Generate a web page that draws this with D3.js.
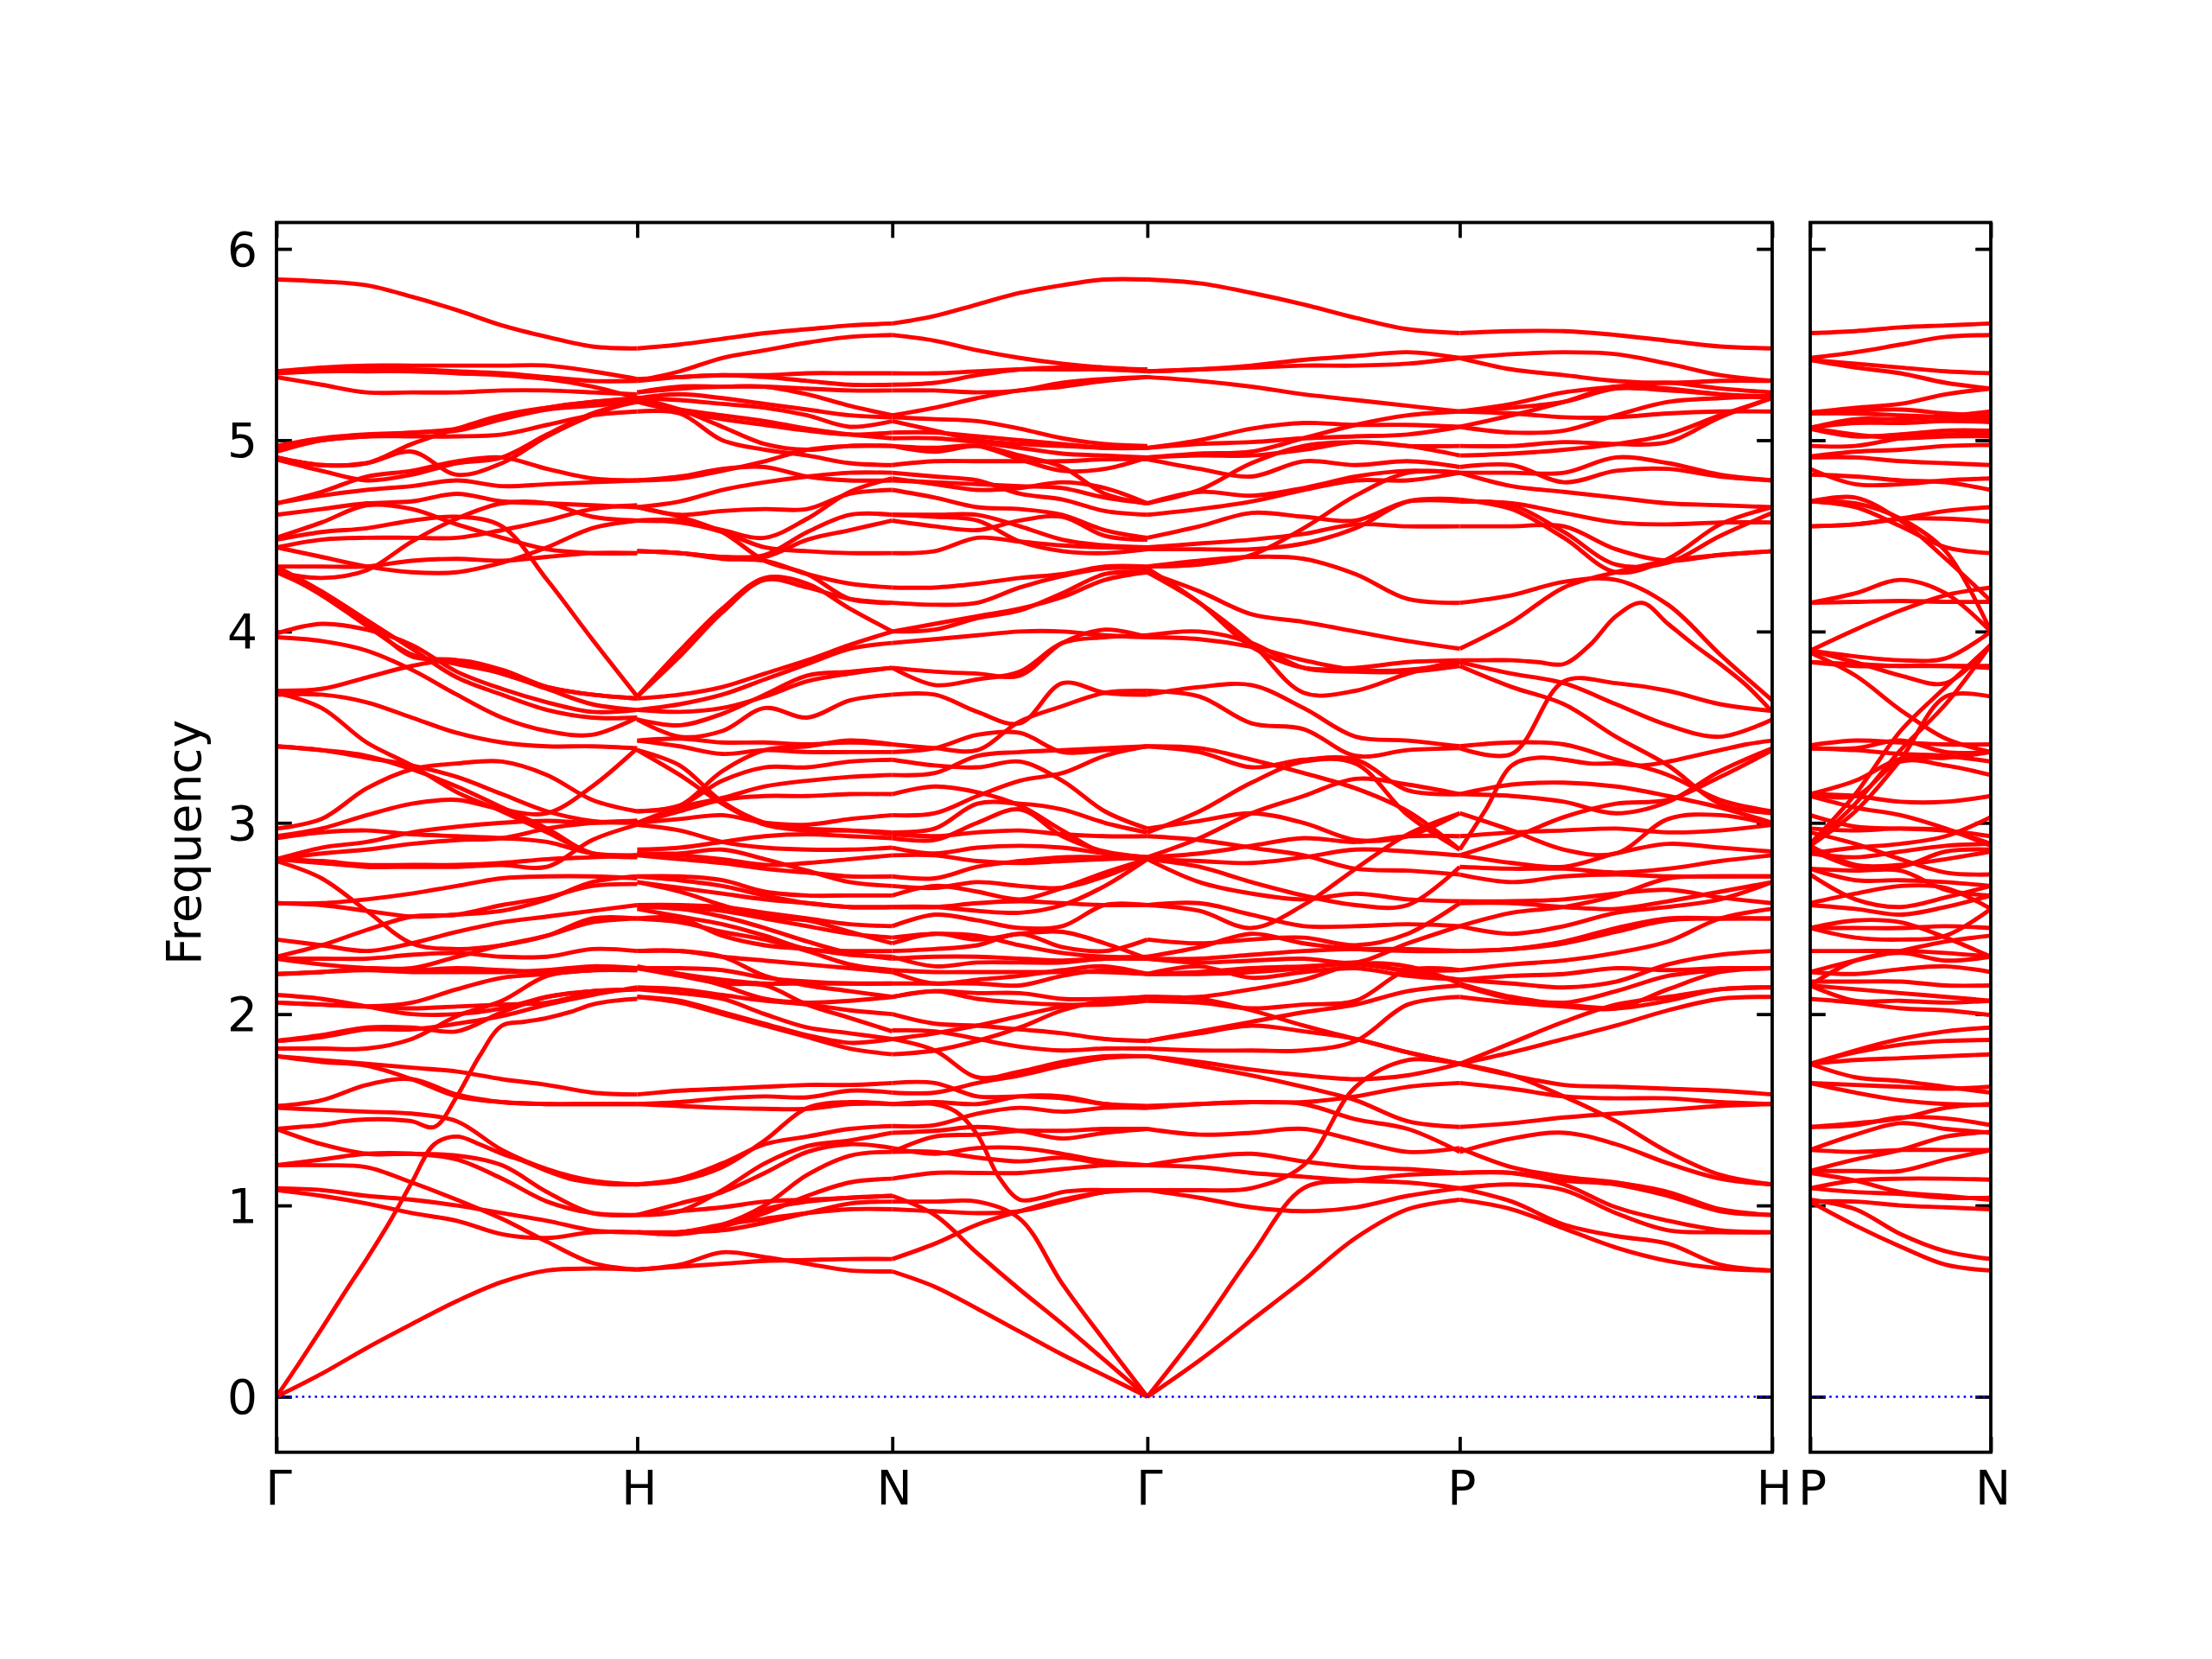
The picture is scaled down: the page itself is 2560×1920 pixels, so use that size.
<!DOCTYPE html>
<html><head><meta charset="utf-8">
<script src="https://cdn.jsdelivr.net/npm/d3@7"></script>
<style>html,body{margin:0;background:#fff}svg{display:block}text{font-family:"DejaVu Sans";fill:#000}</style>
</head><body><div id="chart"></div>
<script>
const mainTickLabels = ["Γ","H","N","Γ","P","H"];
const sideTickLabels = ["P","N"];
const mainTickK = [0,1,1.7071,2.4142,3.2802,4.1463];
const sideTickK = [0,0.5];
const yTicks = [0,1,2,3,4,5,6];
const yLabel = "Frequency";

const gammaToH = [
[5.84,5.83,5.81,5.75,5.68,5.60,5.54,5.49,5.48],
[5.36,5.38,5.39,5.39,5.39,5.39,5.39,5.36,5.32],
[5.35,5.37,5.37,5.37,5.36,5.35,5.33,5.31,5.31],
[5.35,5.36,5.36,5.36,5.35,5.34,5.32,5.28,5.22],
[5.33,5.29,5.25,5.25,5.25,5.26,5.26,5.25,5.24],
[4.97,5.01,5.03,5.04,5.06,5.12,5.17,5.20,5.21],
[4.94,5.00,5.02,5.04,5.05,5.11,5.16,5.18,5.20],
[4.91,4.87,4.88,4.98,5.06,5.13,5.17,5.20,5.22],
[4.96,5.00,5.02,5.02,5.02,5.03,5.08,5.13,5.15],
[4.91,4.87,4.88,4.94,4.82,4.88,5.02,5.13,5.21],
[4.90,4.84,4.79,4.82,4.88,4.91,5.03,5.14,5.20],
[4.67,4.73,4.81,4.84,4.89,4.91,4.85,4.80,4.79],
[4.67,4.71,4.74,4.76,4.79,4.76,4.77,4.78,4.79],
[4.61,4.64,4.67,4.68,4.72,4.68,4.67,4.66,4.65],
[4.49,4.57,4.66,4.64,4.56,4.49,4.43,4.41,4.41],
[4.48,4.52,4.54,4.58,4.60,4.55,4.27,3.96,3.66],
[4.44,4.48,4.49,4.49,4.49,4.53,4.58,4.64,4.66],
[4.44,4.39,4.34,4.31,4.31,4.36,4.44,4.54,4.58],
[4.34,4.34,4.34,4.37,4.38,4.37,4.39,4.41,4.41],
[4.31,4.28,4.32,4.47,4.59,4.67,4.67,4.60,4.58],
[4.34,4.21,4.06,3.91,3.76,3.67,3.59,3.55,3.55],
[4.32,4.19,4.03,3.88,3.83,3.78,3.70,3.62,3.59],
[4.31,4.20,4.05,3.87,3.85,3.78,3.71,3.67,3.65],
[3.99,4.04,4.01,3.93,3.79,3.70,3.63,3.58,3.59],
[3.97,3.95,3.90,3.80,3.67,3.55,3.48,3.46,3.55],
[3.69,3.70,3.76,3.82,3.85,3.80,3.71,3.67,3.65],
[3.67,3.67,3.63,3.55,3.47,3.42,3.40,3.40,3.39],
[3.68,3.60,3.42,3.30,3.16,3.06,2.95,2.84,2.82],
[3.40,3.38,3.34,3.30,3.24,3.15,3.06,3.01,3.00],
[3.40,3.38,3.35,3.28,3.19,3.08,2.97,2.84,2.83],
[2.97,3.02,3.18,3.28,3.31,3.32,3.25,3.12,3.06],
[2.93,2.97,3.04,3.10,3.12,3.07,3.05,3.19,3.39],
[2.92,2.95,2.96,2.94,2.93,2.92,2.90,2.84,2.83],
[2.81,2.87,2.90,2.95,2.98,3.00,3.01,3.00,3.01],
[2.81,2.84,2.86,2.89,2.91,2.92,2.97,3.00,3.01],
[2.81,2.79,2.77,2.77,2.77,2.78,2.77,2.91,2.99],
[2.81,2.80,2.78,2.78,2.78,2.79,2.81,2.82,2.83],
[2.80,2.71,2.54,2.37,2.34,2.36,2.41,2.50,2.50],
[2.58,2.58,2.60,2.63,2.67,2.71,2.72,2.72,2.71],
[2.58,2.57,2.54,2.51,2.52,2.54,2.60,2.69,2.72],
[2.39,2.36,2.33,2.37,2.43,2.48,2.51,2.54,2.57],
[2.30,2.36,2.44,2.51,2.52,2.57,2.61,2.67,2.68],
[2.29,2.29,2.29,2.31,2.32,2.30,2.30,2.34,2.33],
[2.29,2.26,2.24,2.23,2.24,2.23,2.22,2.23,2.23],
[2.21,2.22,2.24,2.24,2.30,2.36,2.41,2.48,2.50],
[2.21,2.22,2.23,2.22,2.22,2.22,2.23,2.25,2.24],
[2.10,2.08,2.04,2.00,2.00,2.03,2.09,2.12,2.13],
[2.06,2.05,2.04,2.06,2.13,2.19,2.21,2.23,2.24],
[2.06,2.05,2.04,2.03,2.04,2.05,2.06,2.11,2.13],
[1.86,1.89,1.93,1.93,1.91,2.01,2.09,2.12,2.13],
[1.86,1.88,1.92,1.92,1.95,1.99,2.05,2.10,2.14],
[1.82,1.82,1.82,1.87,1.99,2.07,2.20,2.23,2.23],
[1.40,1.41,1.42,1.44,1.45,1.45,1.44,1.41,1.57,1.78,1.94,1.96,1.98,2.01,2.05,2.07,2.08],
[1.78,1.75,1.73,1.66,1.57,1.54,1.53,1.53,1.53],
[1.78,1.76,1.74,1.72,1.70,1.66,1.63,1.59,1.58],
[1.52,1.55,1.63,1.66,1.58,1.54,1.53,1.53,1.53],
[1.51,1.50,1.49,1.48,1.44,1.29,1.19,1.13,1.11],
[1.40,1.32,1.27,1.27,1.26,1.21,1.07,0.96,0.95],
[1.21,1.24,1.27,1.27,1.24,1.14,1.02,0.96,0.95],
[1.21,1.21,1.20,1.12,1.03,0.93,0.81,0.70,0.665],
[1.09,1.08,1.05,1.03,1.00,0.96,0.92,0.87,0.86],
[1.08,1.05,1.01,0.96,0.92,0.85,0.83,0.86,0.86],
[0,0.175,0.355,0.54,0.72,0.91,1.12,1.32,1.36,1.32,1.27,1.23,1.18,1.14,1.12,1.11,1.11],
[0,0.12,0.255,0.38,0.50,0.60,0.66,0.67,0.665]
];

const hToN = [
[5.48,5.50,5.53,5.56,5.58,5.60,5.61],
[5.31,5.36,5.43,5.47,5.51,5.54,5.55],
[5.32,5.33,5.34,5.34,5.35,5.35,5.35],
[5.31,5.33,5.34,5.33,5.31,5.29,5.29],
[5.25,5.27,5.28,5.28,5.27,5.26,5.26],
[5.25,5.28,5.28,5.28,5.24,5.18,5.13],
[5.22,5.24,5.22,5.19,5.16,5.13,5.12],
[5.22,5.21,5.19,5.17,5.13,5.07,5.10],
[5.15,5.14,5.00,4.95,4.92,4.88,4.87],
[5.22,5.16,5.07,4.98,4.95,4.97,4.97],
[5.20,5.15,5.11,5.08,5.05,5.03,5.04],
[5.21,5.16,5.13,5.10,5.06,5.03,5.01],
[4.79,4.80,4.84,4.89,4.95,4.97,4.97],
[4.79,4.81,4.85,4.86,4.81,4.79,4.79],
[4.65,4.68,4.74,4.78,4.81,4.83,4.83],
[4.65,4.61,4.63,4.64,4.64,4.72,4.74],
[4.58,4.58,4.53,4.49,4.59,4.73,4.80],
[4.58,4.57,4.52,4.44,4.42,4.41,4.41],
[4.65,4.60,4.52,4.37,4.30,4.17,4.15],
[4.42,4.41,4.39,4.39,4.48,4.53,4.58],
[4.42,4.41,4.38,4.37,4.30,4.25,4.23],
[4.42,4.41,4.39,4.40,4.52,4.61,4.61],
[3.66,3.90,4.12,4.28,4.25,4.12,4.00],
[3.66,3.87,4.10,4.27,4.23,4.17,4.15],
[3.65,3.67,3.71,3.78,3.85,3.93,4.00],
[3.59,3.62,3.67,3.75,3.83,3.91,3.94],
[3.54,3.51,3.57,3.67,3.77,3.79,3.81],
[3.54,3.45,3.48,3.60,3.55,3.64,3.67],
[3.59,3.58,3.60,3.66,3.74,3.78,3.81],
[3.43,3.40,3.36,3.38,3.37,3.37,3.37],
[3.43,3.44,3.42,3.42,3.41,3.42,3.41],
[3.38,3.25,3.10,2.99,2.96,2.96,2.95],
[3.38,3.30,3.11,3.00,2.97,2.96,2.94],
[3.06,3.09,3.27,3.38,3.40,3.43,3.41],
[3.06,3.09,3.22,3.29,3.29,3.32,3.33],
[3.00,3.08,3.13,3.19,3.22,3.24,3.25],
[3.00,3.06,3.12,3.14,3.14,3.15,3.15],
[3.00,3.02,3.04,3.00,2.99,3.02,3.04],
[2.99,2.96,2.90,2.87,2.86,2.86,2.87],
[2.86,2.87,2.90,2.93,2.94,2.93,2.92],
[2.84,2.83,2.81,2.78,2.79,2.81,2.83],
[2.83,2.81,2.79,2.76,2.74,2.72,2.72],
[2.84,2.84,2.86,2.81,2.75,2.69,2.67],
[2.72,2.72,2.70,2.64,2.62,2.62,2.62],
[2.72,2.70,2.67,2.62,2.58,2.56,2.56],
[2.69,2.66,2.63,2.60,2.58,2.56,2.56],
[2.69,2.64,2.57,2.51,2.49,2.43,2.37],
[2.57,2.56,2.54,2.50,2.46,2.42,2.40],
[2.57,2.57,2.56,2.53,2.50,2.47,2.46],
[2.56,2.55,2.51,2.45,2.38,2.32,2.29],
[2.50,2.50,2.41,2.36,2.34,2.31,2.30],
[2.55,2.51,2.47,2.41,2.34,2.33,2.33],
[2.50,2.48,2.43,2.39,2.33,2.26,2.23],
[2.33,2.33,2.30,2.28,2.26,2.24,2.22],
[2.33,2.33,2.30,2.20,2.15,2.12,2.09],
[2.24,2.24,2.23,2.19,2.17,2.16,2.16],
[2.24,2.21,2.15,2.08,2.06,2.07,2.09],
[2.25,2.21,2.18,2.16,2.16,2.16,2.16],
[2.14,2.13,2.10,2.07,2.05,2.02,2.00],
[2.09,2.07,2.01,1.95,1.89,1.85,1.87],
[2.09,2.06,2.00,1.94,1.88,1.82,1.79],
[2.13,2.11,2.08,2.00,1.93,1.90,1.87],
[2.24,2.20,2.16,2.15,2.05,1.98,1.91],
[1.58,1.60,1.61,1.62,1.63,1.63,1.64],
[1.53,1.54,1.56,1.57,1.565,1.60,1.59],
[1.53,1.52,1.51,1.505,1.505,1.53,1.53],
[1.11,1.13,1.20,1.34,1.51,1.54,1.53],
[1.11,1.14,1.22,1.32,1.36,1.40,1.415],
[0.95,0.97,1.08,1.22,1.31,1.34,1.38],
[0.95,1.01,1.07,1.17,1.28,1.32,1.30],
[0.86,0.86,0.90,1.00,1.16,1.26,1.28],
[0.86,0.86,0.89,0.96,1.05,1.12,1.14],
[0.86,0.86,0.90,0.93,0.96,0.98,0.98],
[0.665,0.69,0.755,0.73,0.695,0.66,0.655],
[0.665,0.68,0.695,0.71,0.715,0.72,0.72],
[0.86,0.85,0.89,0.98,1.02,1.04,1.05],
[0.86,0.86,0.87,0.91,0.96,1.01,1.02],
[0.95,0.97,0.99,1.02,1.03,1.04,1.05]
];

const nToGamma = [
[5.61,5.65,5.71,5.77,5.81,5.84,5.84],
[5.55,5.52,5.47,5.43,5.40,5.38,5.37],
[5.35,5.35,5.36,5.37,5.37,5.37,5.36],
[5.29,5.30,5.34,5.37,5.38,5.37,5.37],
[5.26,5.26,5.25,5.26,5.30,5.32,5.33],
[5.13,5.17,5.22,5.26,5.28,5.31,5.33],
[5.12,5.11,5.10,5.06,5.01,4.98,4.97],
[5.10,5.05,5.00,4.98,4.97,4.96,4.96],
[5.04,5.04,5.02,5.00,4.98,4.96,4.96],
[5.01,5.01,4.99,4.96,4.93,4.92,4.91],
[4.97,4.96,4.97,4.90,4.84,4.85,4.91],
[4.97,4.94,4.97,4.92,4.86,4.72,4.67],
[4.87,4.89,4.89,4.89,4.89,4.90,4.90],
[4.79,4.78,4.77,4.76,4.75,4.70,4.67],
[4.83,4.81,4.79,4.72,4.69,4.63,4.61],
[4.80,4.77,4.74,4.75,4.78,4.75,4.67],
[4.74,4.70,4.65,4.64,4.61,4.53,4.49],
[4.61,4.61,4.61,4.55,4.48,4.45,4.44],
[4.61,4.60,4.58,4.47,4.42,4.41,4.43],
[4.58,4.55,4.53,4.58,4.60,4.50,4.48],
[4.41,4.42,4.49,4.47,4.45,4.44,4.44],
[4.23,4.23,4.25,4.28,4.30,4.34,4.34],
[4.15,4.14,4.15,4.23,4.29,4.33,4.33],
[4.00,4.01,4.07,4.11,4.20,4.30,4.31],
[4.00,4.04,4.08,4.12,4.18,4.27,4.31],
[3.94,3.96,3.98,4.00,4.00,3.98,3.97],
[3.81,3.72,3.75,3.79,3.94,3.97,3.98],
[3.81,3.79,3.78,3.77,3.94,4.01,3.97],
[3.67,3.67,3.58,3.52,3.73,3.68,3.67],
[3.41,3.39,3.38,3.53,3.61,3.68,3.69],
[3.37,3.39,3.46,3.47,3.37,3.38,3.40],
[3.33,3.30,3.29,3.32,3.22,3.06,2.97],
[3.25,3.26,3.35,3.37,3.38,3.39,3.40],
[3.15,3.19,3.16,3.09,2.96,2.84,2.82],
[3.04,3.05,3.14,3.22,3.26,3.35,3.40],
[2.95,2.97,3.10,3.10,3.07,3.00,2.95],
[2.92,2.91,3.00,3.07,2.93,2.85,2.82],
[2.94,2.93,2.95,2.96,2.94,2.93,2.93],
[2.87,2.84,2.87,2.88,2.87,2.84,2.82],
[2.83,2.83,2.80,2.79,2.80,2.81,2.82],
[2.72,2.71,2.77,2.80,2.82,2.82,2.81],
[2.67,2.66,2.69,2.67,2.66,2.72,2.81],
[2.62,2.67,2.64,2.60,2.66,2.74,2.81],
[2.56,2.56,2.54,2.53,2.57,2.67,2.81],
[2.46,2.52,2.49,2.45,2.46,2.57,2.57],
[2.56,2.56,2.58,2.59,2.58,2.57,2.57],
[2.40,2.42,2.41,2.36,2.32,2.30,2.30],
[2.37,2.42,2.39,2.42,2.43,2.37,2.29],
[2.33,2.34,2.36,2.42,2.35,2.33,2.39],
[2.29,2.30,2.30,2.29,2.28,2.29,2.29],
[2.30,2.25,2.27,2.27,2.27,2.29,2.29],
[2.22,2.16,2.18,2.20,2.23,2.25,2.21],
[2.23,2.22,2.22,2.22,2.22,2.22,2.21],
[2.16,2.16,2.16,2.15,2.20,2.23,2.21],
[2.09,2.12,2.11,2.11,2.08,2.08,2.09],
[2.09,2.12,2.08,2.06,2.05,2.05,2.07],
[2.00,1.95,1.94,1.92,1.90,1.87,1.86],
[1.915,1.91,1.87,1.83,1.81,1.82,1.82],
[1.87,1.81,1.67,1.70,1.75,1.78,1.78],
[1.79,1.81,1.86,1.93,2.02,2.07,2.09],
[1.87,1.90,1.94,1.99,2.04,2.06,2.09],
[1.64,1.64,1.57,1.57,1.56,1.53,1.52],
[1.59,1.59,1.64,1.68,1.73,1.77,1.78],
[1.53,1.54,1.53,1.57,1.57,1.53,1.51],
[1.53,1.53,1.53,1.49,1.37,1.15,1.03,1.04,1.07,1.08,1.08,1.08,1.08],
[1.415,1.42,1.48,1.51,1.49,1.51,1.51],
[1.38,1.39,1.41,1.39,1.35,1.38,1.40],
[1.30,1.27,1.30,1.30,1.27,1.23,1.21],
[1.28,1.36,1.37,1.39,1.39,1.40,1.40],
[1.28,1.28,1.25,1.23,1.25,1.22,1.21],
[1.14,1.17,1.17,1.17,1.19,1.21,1.21],
[1.05,0.95,0.75,0.56,0.38,0.19,0],
[1.02,1.02,1.02,0.93,0.59,0.29,0],
[0.98,0.97,0.96,0.97,1.02,1.07,1.08],
[0.72,0.80,0.90,0.97,1.03,1.07,1.08],
[0.655,0.575,0.46,0.34,0.22,0.11,0]
];

const gammaToP = [
[5.84,5.82,5.77,5.71,5.64,5.58,5.56],
[5.36,5.37,5.39,5.42,5.44,5.46,5.43],
[5.36,5.37,5.38,5.39,5.39,5.40,5.43],
[5.33,5.31,5.28,5.24,5.21,5.18,5.15],
[4.96,5.00,5.06,5.09,5.08,5.08,5.07],
[4.96,4.98,4.99,5.01,5.02,5.03,5.07],
[4.91,4.93,4.94,5.01,5.08,5.13,5.15],
[4.91,4.92,4.92,4.95,4.99,4.97,4.97],
[4.90,4.85,4.81,4.89,4.87,4.89,4.86],
[4.67,4.74,4.88,4.97,4.99,4.97,4.92],
[4.67,4.73,4.71,4.75,4.81,4.84,4.83],
[4.61,4.64,4.68,4.74,4.79,4.79,4.83],
[4.49,4.55,4.62,4.60,4.58,4.68,4.68],
[4.44,4.46,4.48,4.51,4.56,4.55,4.55],
[4.43,4.43,4.43,4.46,4.54,4.68,4.69],
[4.34,4.35,4.40,4.54,4.71,4.83,4.83],
[4.34,4.37,4.39,4.38,4.30,4.17,4.15],
[4.31,4.21,4.09,4.05,4.00,3.95,3.91],
[4.31,4.15,3.94,3.68,3.69,3.78,3.85],
[4.33,4.15,3.92,3.81,3.81,3.84,3.85],
[3.98,4.00,3.94,3.81,3.79,3.79,3.82],
[3.97,3.96,3.92,3.85,3.80,3.80,3.84],
[3.67,3.71,3.72,3.60,3.45,3.43,3.40],
[3.69,3.66,3.52,3.49,3.35,3.38,3.39],
[3.40,3.39,3.33,3.26,3.18,3.06,2.86],
[3.40,3.37,3.29,3.33,3.33,3.17,3.15],
[2.95,3.06,3.21,3.32,3.31,3.04,2.86],
[2.97,3.01,3.05,3.00,2.91,2.93,3.05],
[2.93,2.91,2.87,2.83,2.76,2.75,2.73],
[2.82,2.92,3.05,3.14,3.23,3.20,3.15],
[2.82,2.84,2.88,2.92,2.90,2.93,2.93],
[2.81,2.80,2.79,2.82,2.86,2.85,2.83],
[2.81,2.77,2.69,2.62,2.57,2.57,2.77],
[2.81,2.69,2.63,2.60,2.63,2.60,2.59],
[2.57,2.58,2.52,2.46,2.46,2.47,2.46],
[2.57,2.54,2.45,2.57,2.76,2.94,3.05],
[2.39,2.37,2.39,2.40,2.36,2.42,2.58],
[2.30,2.35,2.42,2.37,2.34,2.33,2.33],
[2.29,2.29,2.31,2.33,2.34,2.34,2.33],
[2.29,2.27,2.28,2.29,2.27,2.37,2.46],
[2.21,2.22,2.24,2.25,2.26,2.23,2.23],
[2.21,2.25,2.19,2.22,2.24,2.20,2.18],
[2.21,2.21,2.22,2.24,2.27,2.22,2.18],
[2.09,2.09,2.13,2.18,2.26,2.25,2.16],
[2.07,2.06,2.03,2.05,2.07,2.23,2.23],
[2.09,2.08,2.02,1.94,1.87,1.80,1.74],
[1.86,1.91,1.96,2.01,2.05,2.12,2.15],
[1.86,1.90,1.94,1.91,1.87,1.80,1.74],
[1.82,1.81,1.81,1.81,1.86,2.05,2.09],
[1.78,1.75,1.71,1.68,1.66,1.68,1.74],
[1.78,1.73,1.68,1.62,1.55,1.44,1.41],
[1.52,1.53,1.54,1.54,1.57,1.62,1.64],
[1.51,1.53,1.54,1.53,1.45,1.40,1.28],
[1.40,1.37,1.38,1.40,1.34,1.28,1.30],
[0,0.35,0.74,1.09,1.13,1.16,1.17],
[0,0.19,0.40,0.61,0.83,0.98,1.03],
[1.08,1.08,1.09,1.21,1.62,1.76,1.74],
[1.21,1.25,1.27,1.23,1.20,1.19,1.17],
[1.21,1.20,1.17,1.15,1.13,1.12,1.09],
[1.08,1.04,0.99,0.97,0.99,1.05,1.09]
];

const pToH = [
[5.56,5.57,5.57,5.55,5.52,5.49,5.48],
[5.43,5.45,5.46,5.45,5.40,5.34,5.31],
[5.43,5.37,5.34,5.31,5.30,5.31,5.31],
[5.15,5.19,5.25,5.28,5.30,5.27,5.25],
[5.15,5.17,5.20,5.27,5.26,5.24,5.22],
[5.07,5.13,5.20,5.28,5.27,5.24,5.23],
[5.15,5.14,5.12,5.12,5.14,5.15,5.15],
[5.07,5.04,5.05,5.13,5.20,5.22,5.23],
[4.97,4.97,4.99,4.98,4.99,5.12,5.22],
[4.92,4.93,4.95,4.98,5.03,5.13,5.22],
[4.86,4.87,4.78,4.84,4.85,4.81,4.79],
[4.83,4.83,4.83,4.91,4.88,4.82,4.79],
[4.83,4.76,4.73,4.70,4.67,4.66,4.65],
[4.68,4.67,4.62,4.57,4.56,4.57,4.57],
[4.69,4.64,4.49,4.31,4.38,4.56,4.65],
[4.68,4.66,4.52,4.35,4.36,4.50,4.62],
[4.55,4.55,4.55,4.43,4.37,4.40,4.42],
[3.91,4.05,4.23,4.31,4.37,4.40,4.42],
[4.15,4.19,4.26,4.27,4.14,3.88,3.64],
[3.85,3.85,3.85,3.84,3.83,3.93,4.08,4.15,4.04,3.93,3.83,3.72,3.58],
[3.82,3.71,3.62,3.45,3.30,3.10,3.05],
[3.84,3.78,3.73,3.62,3.51,3.45,3.54],
[3.39,3.36,3.74,3.73,3.69,3.62,3.585],
[3.40,3.42,3.41,3.33,3.25,3.12,3.06],
[3.15,3.14,3.11,3.05,3.11,3.27,3.39],
[3.15,3.20,3.21,3.19,3.14,3.08,3.00],
[2.86,3.07,3.30,3.34,3.33,3.31,3.31,3.30,3.32,3.35,3.38,3.41,3.43],
[3.05,2.96,2.86,2.84,3.02,3.04,2.99],
[2.93,2.95,2.96,2.97,2.95,2.96,2.99],
[2.83,2.92,3.03,3.10,3.12,3.24,3.38],
[2.83,2.79,2.77,2.84,2.89,2.87,2.85],
[2.77,2.76,2.76,2.74,2.76,2.80,2.83],
[2.73,2.69,2.72,2.73,2.72,2.72,2.72],
[2.59,2.59,2.60,2.63,2.65,2.61,2.58],
[2.58,2.58,2.56,2.55,2.59,2.64,2.69],
[2.46,2.53,2.56,2.62,2.71,2.72,2.72],
[2.46,2.42,2.46,2.53,2.56,2.60,2.69],
[2.33,2.34,2.38,2.45,2.50,2.50,2.50],
[2.33,2.34,2.37,2.43,2.49,2.50,2.50],
[2.23,2.26,2.28,2.32,2.38,2.50,2.55],
[2.18,2.20,2.21,2.24,2.23,2.24,2.24],
[2.18,2.16,2.14,2.17,2.26,2.31,2.33],
[2.16,2.09,2.06,2.12,2.20,2.23,2.24],
[2.15,2.08,2.05,2.03,2.07,2.13,2.14],
[2.09,2.06,2.04,2.03,2.13,2.22,2.24],
[1.74,1.85,1.96,2.05,2.09,2.13,2.14],
[1.74,1.80,1.87,1.94,2.02,2.08,2.09],
[1.74,1.68,1.57,1.44,1.28,1.16,1.11],
[1.74,1.68,1.63,1.62,1.61,1.60,1.58],
[1.64,1.61,1.57,1.56,1.56,1.54,1.53],
[1.41,1.43,1.46,1.48,1.50,1.52,1.53],
[1.28,1.35,1.38,1.32,1.22,1.14,1.11],
[1.30,1.20,1.15,1.12,1.07,0.98,0.95],
[1.17,1.17,1.13,1.11,1.05,0.97,0.95],
[1.17,1.17,1.11,0.99,0.92,0.87,0.86],
[1.09,1.11,1.08,0.96,0.87,0.86,0.86],
[1.09,1.02,0.90,0.84,0.80,0.69,0.66],
[1.03,0.98,0.88,0.78,0.71,0.67,0.66]
];

const pToN = [
[5.56,5.57,5.59,5.60,5.61],
[5.43,5.46,5.50,5.54,5.55],
[5.42,5.40,5.38,5.36,5.35],
[5.42,5.38,5.35,5.30,5.27],
[5.145,5.17,5.19,5.24,5.27],
[5.145,5.155,5.16,5.14,5.125],
[5.14,5.14,5.13,5.12,5.11],
[5.065,5.11,5.11,5.125,5.15],
[5.065,5.09,5.09,5.10,5.095],
[5.06,5.02,5.03,5.05,5.05],
[5.065,5.03,5.01,5.02,5.02],
[4.97,4.97,5.01,5.03,5.035],
[4.915,4.94,4.95,4.97,4.975],
[4.91,4.91,4.89,4.88,4.87],
[4.85,4.77,4.77,4.79,4.80],
[4.82,4.81,4.79,4.78,4.74],
[4.68,4.70,4.58,4.38,4.16],
[4.68,4.65,4.55,4.44,4.41],
[4.55,4.56,4.59,4.63,4.65],
[4.55,4.56,4.59,4.59,4.575],
[4.68,4.67,4.59,4.42,4.00],
[4.15,4.20,4.27,4.20,4.00],
[4.15,4.155,4.16,4.155,4.155],
[3.90,4.01,4.11,4.19,4.23],
[3.90,3.87,3.85,3.86,4.00],
[3.90,3.84,3.77,3.73,3.93],
[3.84,3.83,3.82,3.82,3.82],
[3.84,3.82,3.82,3.82,3.81],
[3.89,3.77,3.59,3.44,3.37],
[2.89,3.15,3.48,3.71,3.93],
[2.88,3.06,3.33,3.66,3.66],
[2.88,3.10,3.38,3.62,3.93],
[3.405,3.43,3.42,3.41,3.41],
[3.39,3.38,3.36,3.35,3.32],
[3.39,3.39,3.43,3.37,3.37],
[3.15,3.14,3.32,3.30,3.25],
[3.15,3.22,3.335,3.34,3.37],
[3.15,3.14,3.11,3.11,3.14],
[3.14,3.08,3.04,2.97,2.88],
[3.04,2.98,2.97,2.96,2.93],
[2.97,2.96,2.97,2.96,2.89],
[2.95,2.89,2.81,2.74,2.73],
[2.84,2.87,2.89,2.93,3.03],
[2.88,2.78,2.78,2.81,2.85],
[2.84,2.82,2.85,2.88,2.89],
[2.86,2.77,2.77,2.85,2.86],
[2.76,2.70,2.70,2.69,2.67],
[2.76,2.75,2.75,2.65,2.62],
[2.73,2.60,2.56,2.61,2.67],
[2.58,2.63,2.67,2.66,2.55],
[2.57,2.55,2.52,2.56,2.62],
[2.45,2.49,2.48,2.40,2.30],
[2.45,2.45,2.45,2.46,2.45],
[2.45,2.40,2.39,2.41,2.55],
[2.33,2.33,2.33,2.32,2.30],
[2.22,2.28,2.33,2.38,2.41],
[2.22,2.21,2.235,2.25,2.22],
[2.15,2.28,2.32,2.28,2.30],
[2.17,2.17,2.17,2.15,2.15],
[2.15,2.13,2.11,2.09,2.07],
[2.08,2.06,2.03,2.02,1.995],
[2.15,2.07,2.07,2.06,2.07],
[1.74,1.81,1.87,1.91,1.93],
[1.74,1.80,1.84,1.86,1.865],
[1.74,1.76,1.77,1.78,1.79],
[1.74,1.67,1.65,1.62,1.59],
[1.64,1.63,1.62,1.61,1.62],
[1.64,1.59,1.55,1.53,1.525],
[1.41,1.43,1.455,1.51,1.53],
[1.41,1.42,1.46,1.455,1.42],
[1.29,1.37,1.43,1.40,1.38],
[1.29,1.28,1.29,1.29,1.29],
[1.18,1.24,1.29,1.36,1.385],
[1.18,1.18,1.18,1.24,1.29],
[1.17,1.13,1.07,1.05,1.03],
[1.09,1.13,1.14,1.14,1.135],
[1.09,1.07,1.06,1.04,1.04],
[1.02,1.02,1.00,0.99,0.98],
[1.03,0.98,0.85,0.76,0.72],
[1.02,0.895,0.785,0.69,0.66]
];

const W = 2560, H = 1920;
const svg = d3.select("#chart").append("svg").attr("width",W).attr("height",H).attr("viewBox",`0 0 ${W} ${H}`);
const top_ = 257.5, bottom_ = 1680.7;
const y = d3.scaleLinear().domain([-0.29,6.138]).range([bottom_,top_]);
const xMain = d3.scaleLinear().domain([0,4.1463]).range([320,2051]);
const xSide = d3.scaleLinear().domain([0,0.5]).range([2095,2304]);
const FONT = "55px";

function panel(id, x, segments, tickK, tickLabels, showY){
  const [x0,x1] = x.range();
  const g = svg.append("g");
  const clip = "clip-"+id;
  svg.append("defs").append("clipPath").attr("id",clip).append("rect")
    .attr("x",x0).attr("y",top_).attr("width",x1-x0).attr("height",bottom_-top_);
  const TL = 17.8, TW = 3.8;
  const style = s => { s.select(".domain").remove(); s.selectAll("line").attr("stroke","#000").attr("stroke-width",TW);
    s.selectAll("text").style("font-family","DejaVu Sans").style("font-size",FONT).attr("fill","#000"); };
  g.append("g").attr("transform",`translate(${x0},1.5)`)
    .call(d3.axisLeft(y).tickValues(yTicks).tickSize(0).tickPadding(22).tickFormat(showY?d3.format("d"):""))
    .call(style);
  g.append("g").attr("transform",`translate(${x0},0)`)
    .call(d3.axisLeft(y).tickValues(yTicks).tickSize(-TL).tickFormat("")).call(style);
  g.append("g").attr("transform",`translate(${x1},0)`)
    .call(d3.axisRight(y).tickValues(yTicks).tickSize(-TL).tickFormat("")).call(style);
  g.append("g").attr("transform",`translate(2,${bottom_})`)
    .call(d3.axisBottom(x).tickValues(tickK).tickSize(0).tickPadding(21).tickFormat((d,i)=>tickLabels[i])).call(style);
  g.append("g").attr("transform",`translate(0,${bottom_})`)
    .call(d3.axisBottom(x).tickValues(tickK).tickSize(-TL).tickFormat("")).call(style);
  g.append("g").attr("transform",`translate(0,${top_})`)
    .call(d3.axisTop(x).tickValues(tickK).tickSize(-TL).tickFormat("")).call(style);
  const line = d3.line().curve(d3.curveCatmullRom.alpha(0.5));
  const bands = g.append("g").attr("clip-path",`url(#${clip})`);
  segments.forEach(seg=>{
    bands.append("g").selectAll("path").data(seg.rows).join("path")
      .attr("fill","none").attr("stroke","#ff0000").attr("stroke-width",4.9).attr("stroke-linejoin","round")
      .attr("d",row=>line(row.map((v,i)=>[x(seg.k0+(seg.k1-seg.k0)*i/(row.length-1)),y(v)])));
  });
  g.append("line").attr("x1",x0).attr("x2",x1).attr("y1",y(0)).attr("y2",y(0))
    .attr("stroke","#0000ff").attr("stroke-width",2.4).attr("stroke-dasharray","2.6 4.8");
  g.append("rect").attr("x",x0).attr("y",top_).attr("width",x1-x0).attr("height",bottom_-top_)
    .attr("fill","none").attr("stroke","#000").attr("stroke-width",TW);
}

panel("main", xMain, [
  {rows:gammaToH,k0:mainTickK[0],k1:mainTickK[1]},
  {rows:hToN,k0:mainTickK[1],k1:mainTickK[2]},
  {rows:nToGamma,k0:mainTickK[2],k1:mainTickK[3]},
  {rows:gammaToP,k0:mainTickK[3],k1:mainTickK[4]},
  {rows:pToH,k0:mainTickK[4],k1:mainTickK[5]}
], mainTickK, mainTickLabels, true);
panel("side", xSide, [{rows:pToN,k0:sideTickK[0],k1:sideTickK[1]}], sideTickK, sideTickLabels, false);

svg.append("text").attr("transform",`translate(217,975) rotate(-90)`)
  .attr("text-anchor","middle").attr("dominant-baseline","middle")
  .style("font-family","DejaVu Sans").style("font-size",FONT).text(yLabel);
</script></body></html>
